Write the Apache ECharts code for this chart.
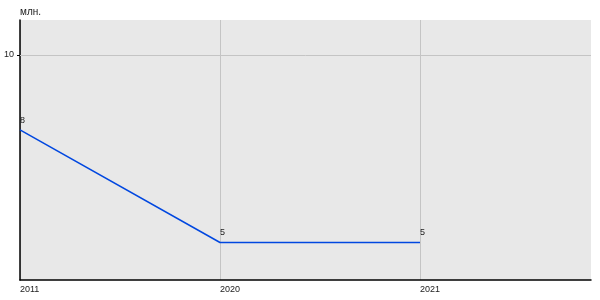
<!DOCTYPE html>
<html>
<head>
<meta charset="utf-8">
<script src="https://cdn.jsdelivr.net/npm/echarts@6/dist/echarts.min.js"></script>
<style>html,body{margin:0;padding:0;background:#fff}#c{width:600px;height:300px}</style>
</head>
<body>
<div id="c"></div>
<script>
const categories = ['2011', '2020', '2021'];
const values = [8, 5, 5];
const yTickValues = [10];
const yUnit = 'млн.';

const chart = echarts.init(document.getElementById('c'), null, {renderer: 'canvas'});
const font = 'Liberation Sans, Arial, sans-serif';
chart.setOption({
  animation: false,
  grid: {left: 20, right: 9, top: 20, bottom: 20, show: true, backgroundColor: '#e8e8e8', borderWidth: 0},
  xAxis: {
    type: 'value', min: 0, max: 2.855, interval: 1,
    axisLine: {show: true, onZero: false, lineStyle: {color: '#000', width: 1.5}},
    axisTick: {show: false},
    splitLine: {show: true, showMaxLine: false, lineStyle: {color: '#c4c4c4', width: 1}},
    axisLabel: {
      color: '#222', fontSize: 9, fontFamily: font, align: 'left', margin: 5,
      formatter: v => categories[Math.round(v)] !== undefined && Math.abs(v - Math.round(v)) < 1e-6 ? categories[Math.round(v)] : ''
    }
  },
  yAxis: {
    type: 'value', min: 4, max: 10.93, interval: 6,
    name: yUnit, nameLocation: 'end', nameGap: 3,
    nameTextStyle: {color: '#222', fontSize: 10, fontFamily: font, align: 'left', padding: [0, 0, 0, 0]},
    axisLine: {show: true, lineStyle: {color: '#000', width: 1.5}},
    axisTick: {show: true, length: 3, customValues: yTickValues, lineStyle: {color: '#000'}},
    splitLine: {show: false},
    axisLabel: {color: '#222', fontSize: 9, fontFamily: font, margin: 6, customValues: yTickValues,
      formatter: v => yTickValues.includes(v) ? String(v) : ''}
  },
  series: [{
    type: 'line',
    data: values.map((v, i) => [i, v]),
    symbol: 'circle', symbolSize: 0.1, showSymbol: true,
    clip: false,
    lineStyle: {color: '#0047e0', width: 1.5},
    itemStyle: {color: '#0047e0'},
    label: {show: true, position: 'top', align: 'left', distance: 5,
      color: '#222', fontSize: 9, fontFamily: font},
    markLine: {
      silent: true, symbol: 'none', label: {show: false},
      lineStyle: {color: '#c4c4c4', width: 1, type: 'solid'},
      data: yTickValues.map(v => ({yAxis: v}))
    },
    z: 3
  }]
});
</script>
</body>
</html>
